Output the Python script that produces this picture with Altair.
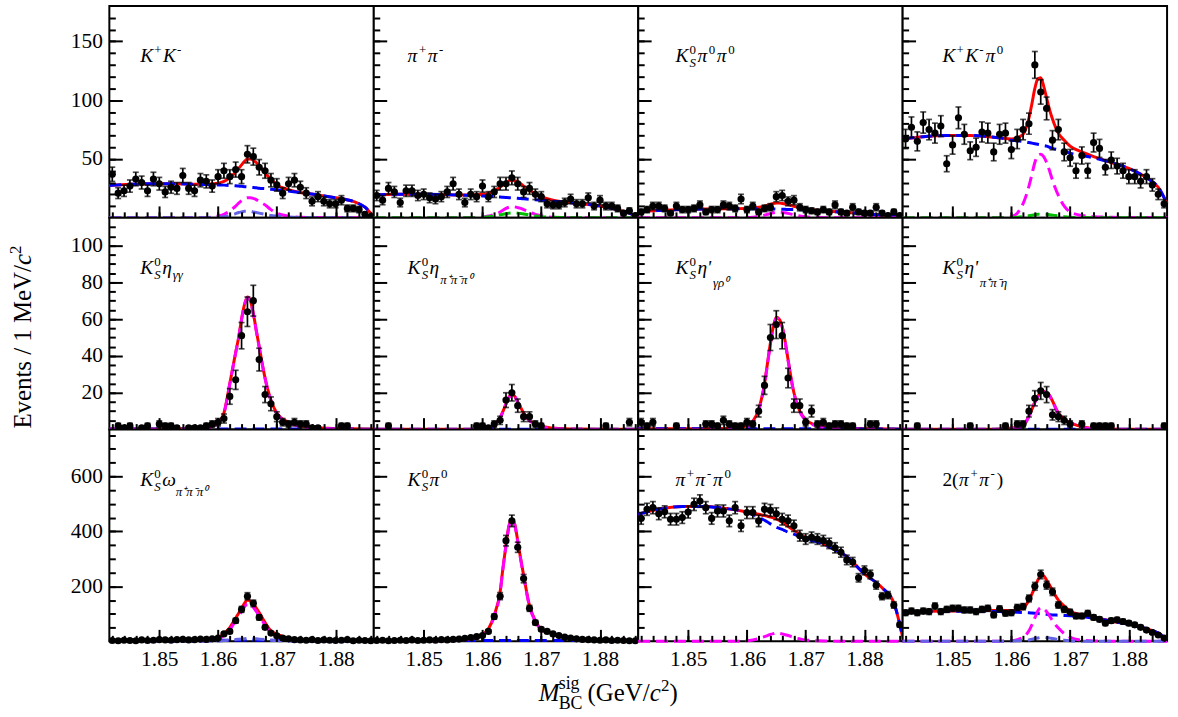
import altair as alt
import numpy as np
import pandas as pd

# ---------------- grid ----------------
XDOM = [1.8415, 1.8865]
BIN_X = [round(1.842 + 0.001 * i, 4) for i in range(45)]          # bin centres (1 MeV bins)
CX = [1.8415, 1.845, 1.849, 1.853, 1.856, 1.858, 1.860, 1.861, 1.862, 1.863,
      1.8635, 1.864, 1.8645, 1.865, 1.8655, 1.866, 1.8665, 1.867, 1.868, 1.869,
      1.870, 1.872, 1.874, 1.877, 1.880, 1.883, 1.885, 1.8865]     # fit-curve sample points
X_MAJOR = [1.85, 1.86, 1.87, 1.88]
X_MINOR = [round(1.842 + 0.002 * i, 3) for i in range(23)]

Y_DOM = [[0, 180], [0, 115], [0, 770]]
Y_MAJOR = [[50, 100, 150], [20, 40, 60, 80, 100], [200, 400, 600]]
Y_MINOR = [list(range(10, 180, 10)), list(range(5, 115, 5)), list(range(50, 770, 50))]

# ---------------- data: K+K- ----------------
KK_N = [37, 21, 23, 27, 33, 30, 23, 33, 29, 22, 26, 25, 36, 25, 23, 32, 31, 27, 35, 40, 35, 41, 35,
        54, 52, 43, 40, 32, 28, 21, 29, 32, 26, 21, 14, 18, 14, 12, 12, 15, 8, 8, 7, 3, 1]
KK_TOT = [27.5, 28.5, 29, 29, 28.5, 28.5, 29.5, 31, 34, 39, 42, 45, 48, 50, 50, 49, 47, 44, 38, 33,
          28, 24, 21.5, 19.5, 17, 14, 9, 0.5]
KK_BKG = [27.5, 28.5, 29, 29, 28.5, 28.3, 28, 27.8, 27.5, 27.2, 27, 26.8, 26.5, 26.3, 26, 25.8, 25.5,
          25.2, 24.8, 24.3, 23.8, 22.8, 21.4, 19.5, 17, 14, 9, 0.5]
KK_SIG = [0, 0, 0, 0, 0, 0.2, 1.5, 3, 6, 10, 12.5, 14.5, 16, 17, 17, 16.5, 15.5, 14, 11, 7, 4, 1.5,
          0.5, 0.2, 0, 0, 0, 0]
KK_PK = [0, 0, 0, 0, 0, 0.1, 0.5, 1, 2, 3.5, 4.5, 5, 5.5, 5.5, 5.5, 5, 4.5, 4, 3, 2, 1.5, 0.7, 0.3,
         0.1, 0, 0, 0, 0]

# ---------------- data: pi+pi- ----------------
PP_N = [19, 15, 25, 22, 13, 23, 23, 19, 20, 17, 16, 18, 22, 29, 20, 13, 20, 18, 27, 18, 22, 29, 29,
        34, 29, 22, 25, 20, 18, 12, 11, 11, 13, 16, 12, 12, 17, 10, 15, 10, 10, 8, 4, 6, 2]
PP_TOT = [19.5, 20, 20, 19.8, 19.5, 19.5, 20, 21, 23, 26, 28, 30, 31.5, 32, 31.5, 30.5, 29, 27, 23.5,
          20.5, 18, 15, 13.5, 12, 10, 7, 4, 0.5]
PP_BKG = [19.5, 20, 20, 19.8, 19.4, 19, 18.6, 18.3, 18, 17.7, 17.5, 17.3, 17.1, 17, 16.8, 16.6, 16.4,
          16.2, 15.8, 15.4, 15, 14.2, 13.3, 12, 10, 7, 4, 0.5]
PP_SIG = [0, 0, 0, 0, 0, 0, 0.5, 1.5, 3, 5, 6.5, 8, 9, 9.5, 9.3, 8.7, 8, 7, 5, 3, 1.8, 0.5, 0.2, 0,
          0, 0, 0, 0]
PP_PK = [0, 0, 0, 0, 0, 0, 0.5, 1, 1.5, 2.5, 3, 3.5, 4, 4.2, 4.2, 4, 3.7, 3.3, 2.5, 1.7, 1, 0.4, 0.2,
         0, 0, 0, 0, 0]

# ---------------- data: KS pi0 pi0 ----------------
KPP_N = [5, 7, 10, 10, 8, 4, 10, 7, 7, 8, 11, 5, 7, 7, 11, 10, 8, 16, 7, 10, 5, 8, 9, 18, 19, 14,
         15, 9, 7, 6, 5, 7, 5, 11, 5, 4, 9, 5, 4, 4, 9, 4, 2, 5, 2]
KPP_TOT = [5.5, 6.3, 7, 7.5, 7.7, 7.8, 8, 8.3, 9, 10, 10.8, 11.5, 12.2, 12.5, 12.5, 12.2, 11.8, 11.2,
           9.8, 8.5, 7.6, 6.4, 5.6, 4.6, 3.6, 2.4, 1.6, 0.5]
KPP_BKG = [5.5, 6.3, 7, 7.5, 7.7, 7.8, 7.8, 7.8, 7.7, 7.6, 7.6, 7.5, 7.5, 7.4, 7.4, 7.3, 7.2, 7.1, 7,
           6.8, 6.6, 6, 5.4, 4.5, 3.5, 2.3, 1.5, 0.5]
KPP_SIG = [0, 0, 0, 0, 0, 0, 0.2, 0.5, 1.2, 2.3, 3, 3.7, 4.3, 4.7, 4.8, 4.6, 4.3, 3.8, 2.6, 1.6, 0.9,
           0.3, 0.1, 0, 0, 0, 0, 0]

# ---------------- data: K+K- pi0 ----------------
KKP_N = [67, 77, 65, 81, 75, 72, 78, 46, 62, 85, 71, 57, 60, 73, 72, 56, 71, 72, 58, 67, 75, 80, 130,
         107, 93, 66, 75, 56, 51, 40, 53, 40, 64, 59, 43, 49, 44, 40, 35, 35, 31, 35, 28, 20, 12]
KKP_TOT = [67, 69, 70, 70, 69, 68, 67, 68, 71, 85, 97, 110, 118, 119, 112, 102, 92, 84, 72, 66, 61,
           56, 52, 47, 42, 34, 26, 12]
KKP_BKG = [67, 69, 70, 70, 69, 68, 66, 65.5, 65, 64, 63.5, 63, 62.5, 62, 61.5, 61, 60, 59, 58, 57, 55,
           53, 51, 47, 42, 34, 26, 12]
KKP_SIG = [0, 0, 0, 0, 0, 0, 1, 4, 12, 27, 37, 47, 53, 54, 52, 47, 40, 32, 19, 10, 5, 2, 1, 0.5, 0.3,
           0.2, 0.1, 0]
KKP_PK = [0, 0, 0, 0, 0, 0, 0.2, 0.5, 1, 1.8, 2.2, 2.6, 3, 3.2, 3.2, 3, 2.7, 2.3, 1.6, 1, 0.6, 0.2,
          0.1, 0, 0, 0, 0, 0]

# ---------------- data: KS eta(gg) ----------------
KEG_N = [0, 2, 1, 2, 0, 1, 2, 0, 3, 2, 2, 1, 0, 1, 1, 1, 2, 3, 4, 6, 18, 27, 51, 64, 70, 38, 19, 14,
         7, 4, 3, 4, 3, 3, 1, 1, 0, 0, 0, 2, 2, 0, 0, 0, 0]
KEG_TOT = [0.3, 0.3, 0.3, 0.4, 0.5, 0.9, 3.5, 9, 25, 42, 50, 60, 68, 72, 70, 63, 54, 45, 28, 16, 9, 4,
           2, 1, 0.6, 0.4, 0.3, 0.2]
KEG_BKG = [0.3, 0.3, 0.3, 0.3, 0.3, 0.3, 0.3, 0.3, 0.3, 0.3, 0.3, 0.3, 0.3, 0.3, 0.3, 0.3, 0.3, 0.3,
           0.3, 0.3, 0.3, 0.3, 0.3, 0.3, 0.3, 0.25, 0.2, 0.1]
KEG_SIG = [0, 0, 0, 0.1, 0.2, 0.6, 3.2, 8.7, 24.7, 41.7, 49.7, 59.7, 67.7, 71.7, 69.7, 62.7, 53.7,
           44.7, 27.7, 15.7, 8.7, 3.7, 1.7, 0.7, 0.3, 0.15, 0.1, 0.1]

# ---------------- data: KS eta(3pi) ----------------
KE3_N = [0, 0, 2, 0, 0, 0, 0, 0, 0, 0, 0, 0, 0, 0, 0, 0, 0, 2, 2, 1, 3, 5, 16, 20, 13, 7, 7, 3, 2, 0,
         0, 0, 0, 0, 0, 0, 0, 0, 0, 2, 0, 0, 0, 4, 0]
KE3_TOT = [0.2, 0.2, 0.2, 0.2, 0.2, 0.2, 0.4, 1, 2.5, 6.5, 10, 14, 17.5, 19, 18, 15, 12, 9, 5, 3, 1.8,
           0.8, 0.4, 0.25, 0.2, 0.2, 0.2, 0.2]
KE3_BKG = [0.2, 0.2, 0.2, 0.2, 0.2, 0.2, 0.2, 0.2, 0.2, 0.2, 0.2, 0.2, 0.2, 0.2, 0.2, 0.2, 0.2, 0.2,
           0.2, 0.2, 0.2, 0.2, 0.2, 0.2, 0.2, 0.2, 0.2, 0.2]
KE3_SIG = [0, 0, 0, 0, 0, 0, 0.2, 0.8, 2.3, 6.3, 9.8, 13.8, 17.3, 18.8, 17.8, 14.8, 11.8, 8.8, 4.8,
           2.8, 1.6, 0.6, 0.2, 0.05, 0, 0, 0, 0]

# ---------------- data: KS eta'(gamma rho) ----------------
KEPG_N = [4, 2, 4, 0, 0, 0, 2, 0, 0, 0, 0, 3, 3, 2, 5, 3, 2, 2, 4, 3, 10, 24, 50, 57, 51, 28, 13, 13,
          4, 10, 3, 4, 2, 3, 3, 2, 2, 0, 0, 3, 3, 0, 0, 0, 0]
KEPG_TOT = [0.4, 0.4, 0.5, 0.5, 0.6, 0.8, 2, 4.5, 11, 25, 36, 47, 56, 61, 60, 56, 48, 38, 20, 10, 5.5,
            2.2, 1.2, 0.7, 0.5, 0.4, 0.3, 0.3]
KEPG_BKG = [0.4, 0.4, 0.4, 0.4, 0.4, 0.4, 0.4, 0.4, 0.4, 0.4, 0.4, 0.4, 0.4, 0.4, 0.4, 0.4, 0.4, 0.4,
            0.4, 0.4, 0.4, 0.4, 0.4, 0.4, 0.35, 0.3, 0.25, 0.2]
KEPG_SIG = [0, 0, 0.1, 0.1, 0.2, 0.4, 1.6, 4.1, 10.6, 24.6, 35.6, 46.6, 55.6, 60.6, 59.6, 55.6, 47.6,
            37.6, 19.6, 9.6, 5.1, 1.8, 0.8, 0.3, 0.15, 0.1, 0.05, 0.1]

# ---------------- data: KS eta'(pi pi eta) ----------------
KEPP_N = [0, 0, 2, 0, 0, 0, 0, 0, 0, 0, 0, 2, 0, 0, 0, 0, 0, 2, 0, 3, 3, 10, 17, 21, 19, 8, 7, 5, 3,
          0, 3, 0, 2, 2, 2, 2, 0, 0, 0, 0, 0, 0, 0, 0, 2]
KEPP_TOT = [0.2, 0.2, 0.2, 0.2, 0.2, 0.3, 0.8, 1.3, 2.2, 7.4, 11, 15, 18, 20.5, 20.8, 19.8, 18.5, 15.5,
            9, 5.5, 3.8, 1.5, 0.6, 0.3, 0.2, 0.2, 0.2, 0.2]
KEPP_BKG = [0.2, 0.2, 0.2, 0.2, 0.2, 0.2, 0.2, 0.2, 0.2, 0.2, 0.2, 0.2, 0.2, 0.2, 0.2, 0.2, 0.2, 0.2,
            0.2, 0.2, 0.2, 0.2, 0.2, 0.2, 0.2, 0.2, 0.2, 0.2]
KEPP_SIG = [0, 0, 0, 0, 0, 0.1, 0.6, 1.1, 2, 7.2, 10.8, 14.8, 17.8, 20.3, 20.6, 19.6, 18.3, 15.3, 8.8,
            5.3, 3.6, 1.3, 0.4, 0.1, 0, 0, 0, 0]

# ---------------- data: KS omega ----------------
KW_N = [3, 2, 4, 3, 2, 5, 3, 4, 6, 5, 4, 6, 7, 5, 6, 8, 7, 9, 12, 27, 36, 75, 116, 164, 138, 87, 51,
        30, 20, 12, 9, 6, 5, 4, 6, 3, 5, 4, 3, 4, 6, 2, 4, 3, 2]
KW_TOT = [4, 4, 4, 4, 4.5, 6, 12, 28, 50, 85, 102, 120, 138, 150, 146, 137, 121, 105, 68, 38, 26, 11,
          6, 4.5, 4, 3.5, 3, 2]
KW_BKG = [3.5, 3.5, 3.5, 3.5, 3.5, 3.5, 3.5, 3.5, 3.5, 3.5, 3.5, 3.5, 3.5, 3.5, 3.5, 3.5, 3.5, 3.5,
          3.5, 3.5, 3.5, 3.5, 3.4, 3.3, 3.1, 2.8, 2.4, 1.8]
KW_SIG = [0, 0, 0, 0, 0.5, 2.2, 7.5, 22, 42.5, 75, 91, 108, 125, 136.5, 132.5, 124, 108.5, 93.5,
          58.5, 30.5, 20, 6.5, 2.2, 1.1, 0.9, 0.7, 0.6, 0.2]
KW_PK = [0, 0, 0, 0, 0, 0.3, 1, 2.5, 4, 6.5, 7.5, 8.5, 9.5, 10, 10, 9.5, 9, 8, 6, 4, 2.5, 1, 0.4, 0.1,
         0, 0, 0, 0]

# ---------------- data: KS pi0 ----------------
KP_N = [3, 4, 2, 3, 4, 3, 5, 3, 4, 5, 4, 6, 5, 7, 8, 11, 14, 17, 21, 36, 90, 164, 366, 438, 342, 228,
        120, 68, 44, 36, 27, 21, 15, 12, 9, 7, 6, 5, 4, 5, 3, 4, 3, 2, 2]
KP_TOT = [4, 4, 4, 5, 7, 12, 25, 45, 95, 180, 270, 350, 420, 445, 425, 365, 300, 240, 130, 75, 45, 28,
          16, 8, 5, 4, 3, 2]
KP_BKG = [3, 3, 3, 3, 3, 3, 3, 3, 3, 3, 3, 3, 3, 3, 3, 3, 3, 3, 3, 3, 3, 3, 2.9, 2.7, 2.5, 2.2, 1.8,
          1.2]
KP_SIG = [1, 1, 1, 2, 4, 9, 22, 42, 92, 177, 267, 347, 417, 442, 422, 362, 297, 237, 127, 72, 42, 25,
          13.1, 5.3, 2.5, 1.8, 1.2, 0.8]

# ---------------- data: pi+pi-pi0 ----------------
PPP_N = [447, 480, 486, 464, 471, 444, 444, 450, 470, 498, 510, 486, 447, 474, 474, 438, 486, 420, 468,
         468, 438, 480, 476, 464, 444, 438, 420, 384, 372, 378, 372, 366, 356, 340, 324, 296, 288, 231,
         258, 243, 204, 164, 168, 132, 60]
PPP_TOT = [462, 480, 490, 490, 484, 478, 470, 466, 462, 457, 455, 452, 449, 445, 440, 434, 426, 418,
           404, 390, 377, 364, 344, 308, 245, 195, 140, 15]
PPP_BKG = [462, 480, 490, 490, 484, 478, 468, 461, 452, 440, 434, 427, 421, 415, 411, 407, 402, 397,
           390, 381, 372, 362, 343, 308, 245, 195, 140, 15]
PPP_SIG = [0, 0, 0, 0, 0, 0, 2, 5, 10, 17, 21, 25, 28, 30, 29, 27, 24, 21, 14, 9, 5, 2, 1, 0, 0, 0, 0,
           0]

# ---------------- data: 2(pi+pi-) ----------------
TPP_N = [104, 110, 104, 110, 108, 128, 108, 116, 120, 120, 114, 114, 108, 116, 120, 96, 118, 102, 104,
         123, 126, 156, 200, 243, 204, 180, 132, 116, 106, 92, 92, 102, 87, 80, 66, 75, 78, 72, 66, 60,
         51, 41, 32, 23, 12]
TPP_TOT = [104, 108, 110, 111, 112, 112, 112, 114, 122, 148, 172, 196, 222, 238, 238, 222, 205, 185,
           150, 128, 110, 96, 88, 74, 62, 46, 30, 8]
TPP_BKG = [104, 107, 109, 109, 109, 108, 107, 106, 105, 104, 103, 102, 101, 100, 99, 98, 97, 96, 95, 94,
           93, 90, 84, 74, 62, 46, 30, 8]
TPP_SIG = [0, 0, 0, 0, 0, 0.5, 2, 6, 15, 38, 60, 85, 110, 122, 118, 108, 92, 75, 48, 28, 14, 4, 1.5,
           0.5, 0, 0, 0, 0]
TPP_PK = [0, 0, 0, 0, 0, 0, 1, 2, 3, 5, 8, 10, 12, 14, 14, 13, 12, 10, 7, 4, 2, 0.5, 0.2, 0, 0, 0, 0, 0]

# ---------------- styling ----------------
FONT = "Liberation Serif"
W, H = 266, 213
RED, BLUE, MAGENTA = "#ff0000", "#0000ff", "#ff00ff"
SLATE, GREEN = "#6464e6", "#00c000"
DASH = [12, 6]
MAIN, SCRIPT = 19.5, 13
TICKFS = 21.5

WID = {"K": 0.70, "S": 0.5, "0": 0.5, "2": 0.5, "+": 0.564, "-": 0.36, "π": 0.56, "η": 0.52,
       "ω": 0.68, "γ": 0.46, "ρ": 0.5, "'": 0.25, "(": 0.333, ")": 0.333, "⁺": 0.35, "⁻": 0.35,
       "⁰": 0.35}

L_KK = [("K", "i"), ("+", "sup"), ("K", "i"), ("-", "sup")]
L_PP = [("π", "i"), ("+", "sup"), ("π", "i"), ("-", "sup")]
L_KPP = [("K", "i"), ("S", "subS"), ("0", "sup"), ("π", "i"), ("0", "sup"), ("π", "i"), ("0", "sup")]
L_KKP = [("K", "i"), ("+", "sup"), ("K", "i"), ("-", "sup"), ("π", "i"), ("0", "sup")]
L_KEG = [("K", "i"), ("S", "subS"), ("0", "sup"), ("η", "i"), ("γγ", "sub")]
L_KE3 = [("K", "i"), ("S", "subS"), ("0", "sup"), ("η", "i"), ("π⁺π⁻π⁰", "lsub")]
L_KEPG = [("K", "i"), ("S", "subS"), ("0", "sup"), ("η'", "i"), ("γρ⁰", "lsub2")]
L_KEPP = [("K", "i"), ("S", "subS"), ("0", "sup"), ("η'", "i"), ("π⁺π⁻η", "lsub2")]
L_KW = [("K", "i"), ("S", "subS"), ("0", "sup"), ("ω", "i"), ("π⁺π⁻π⁰", "lsub")]
L_KP = [("K", "i"), ("S", "subS"), ("0", "sup"), ("π", "i"), ("0", "sup")]
L_PPP = [("π", "i"), ("+", "sup"), ("π", "i"), ("-", "sup"), ("π", "i"), ("0", "sup")]
L_TPP = [("2(", "r"), ("π", "i"), ("+", "sup"), ("π", "i"), ("-", "sup"), (")", "r")]

PANELS = [
    [dict(lab=L_KK, n=KK_N, tot=KK_TOT, bkg=KK_BKG, sig=KK_SIG, pk=KK_PK, pkc=SLATE),
     dict(lab=L_PP, n=PP_N, tot=PP_TOT, bkg=PP_BKG, sig=PP_SIG, pk=PP_PK, pkc=GREEN),
     dict(lab=L_KPP, n=KPP_N, tot=KPP_TOT, bkg=KPP_BKG, sig=KPP_SIG),
     dict(lab=L_KKP, n=KKP_N, tot=KKP_TOT, bkg=KKP_BKG, sig=KKP_SIG, pk=KKP_PK, pkc=GREEN)],
    [dict(lab=L_KEG, n=KEG_N, tot=KEG_TOT, bkg=KEG_BKG, sig=KEG_SIG),
     dict(lab=L_KE3, n=KE3_N, tot=KE3_TOT, bkg=KE3_BKG, sig=KE3_SIG),
     dict(lab=L_KEPG, n=KEPG_N, tot=KEPG_TOT, bkg=KEPG_BKG, sig=KEPG_SIG),
     dict(lab=L_KEPP, n=KEPP_N, tot=KEPP_TOT, bkg=KEPP_BKG, sig=KEPP_SIG)],
    [dict(lab=L_KW, n=KW_N, tot=KW_TOT, bkg=KW_BKG, sig=KW_SIG, pk=KW_PK, pkc=SLATE),
     dict(lab=L_KP, n=KP_N, tot=KP_TOT, bkg=KP_BKG, sig=KP_SIG),
     dict(lab=L_PPP, n=PPP_N, tot=PPP_TOT, bkg=PPP_BKG, sig=PPP_SIG),
     dict(lab=L_TPP, n=TPP_N, tot=TPP_TOT, bkg=TPP_BKG, sig=TPP_SIG, pk=TPP_PK, pkc=SLATE)],
]
LAB_X = [31, 34, 37.5, 40]
LAB_Y = 56.5


def tw(s, fs):
    return sum(WID.get(ch, 0.5) for ch in s) * fs


def text_layer(s, x, y, size, style="normal", angle=0):
    df = pd.DataFrame({"t": [s]})
    return alt.Chart(df).mark_text(
        align="left", baseline="alphabetic", font=FONT, fontSize=size,
        fontStyle=style, angle=angle, color="black"
    ).encode(x=alt.value(x), y=alt.value(y), text="t:N")


def label_layers(segs, x0, y0):
    out, x, pending = [], x0, 0.0
    for text, kind in segs:
        if kind == "i":
            fs, dy, st = MAIN, 0, "italic"
        elif kind == "r":
            fs, dy, st = MAIN, 0, "normal"
        elif kind == "sup":
            fs, dy, st = SCRIPT, -8, "normal"
        elif kind in ("sub", "subS"):
            fs, dy, st = SCRIPT, 5, "italic"
        elif kind == "lsub":
            fs, dy, st = SCRIPT, 10, "italic"
        else:
            fs, dy, st = SCRIPT, 13, "italic"
        out.append(text_layer(text, x, y0 + dy, fs, st))
        w = tw(text, fs)
        if kind == "subS":
            pending = w
        else:
            x += max(w, pending) + (1.5 if kind in ("sup", "sub") else 0.5)
            pending = 0.0
    return out


def panel(p, r, c):
    xsc = alt.Scale(domain=XDOM, nice=False, zero=False)
    ysc = alt.Scale(domain=Y_DOM[r], nice=False, zero=False)

    def X(f="x"):
        return alt.X(f"{f}:Q", scale=xsc, axis=None)

    def Y(f):
        return alt.Y(f"{f}:Q", scale=ysc, axis=None)

    pts = pd.DataFrame({"x": BIN_X, "n": np.array(p["n"], dtype=float)})
    pts = pts[pts["n"] > 0].copy()
    err = np.sqrt(pts["n"])
    pts["lo"] = pts["n"] - err
    pts["hi"] = pts["n"] + err
    pts["xl"] = pts["x"] - 0.0005
    pts["xh"] = pts["x"] + 0.0005

    def curve(vals, color, dash=None, width=3):
        df = pd.DataFrame({"x": CX, "y": vals})
        kw = dict(color=color, strokeWidth=width, interpolate="monotone")
        if dash:
            kw["strokeDash"] = dash
        return alt.Chart(df).mark_line(**kw).encode(x=X(), y=Y("y"))

    layers = [curve(p["tot"], RED), curve(p["bkg"], BLUE, DASH), curve(p["sig"], MAGENTA, DASH)]
    if "pk" in p:
        layers.append(curve(p["pk"], p["pkc"], DASH))

    base = alt.Chart(pts)
    layers += [
        base.mark_rule(color="black", strokeWidth=1.7).encode(x=X(), y=Y("lo"), y2="hi:Q"),
        base.mark_rule(color="black", strokeWidth=1.7).encode(x=X("xl"), x2="xh:Q", y=Y("n")),
        base.mark_tick(orient="horizontal", size=6, thickness=1.7, color="black").encode(x=X(), y=Y("lo")),
        base.mark_tick(orient="horizontal", size=6, thickness=1.7, color="black").encode(x=X(), y=Y("hi")),
        base.mark_circle(size=52, color="black", opacity=1).encode(x=X(), y=Y("n")),
    ]

    ax = alt.Chart(pts).mark_point(opacity=0)
    tick_common = dict(labels=False, domain=False, grid=False, title=None, tickColor="black",
                       tickWidth=2, zindex=1)
    layers += [
        ax.encode(x=alt.X("x:Q", scale=xsc, axis=alt.Axis(orient="top", offset=-H, values=X_MAJOR,
                                                          tickSize=12, **tick_common)), y=Y("n")),
        ax.encode(x=alt.X("x:Q", scale=xsc, axis=alt.Axis(orient="top", offset=-H, values=X_MINOR,
                                                          tickSize=6, **tick_common)), y=Y("n")),
        ax.encode(x=X(), y=alt.Y("n:Q", scale=ysc, axis=alt.Axis(orient="right", offset=-W,
                                                              values=Y_MAJOR[r], tickSize=13, **tick_common))),
        ax.encode(x=X(), y=alt.Y("n:Q", scale=ysc, axis=alt.Axis(orient="right", offset=-W,
                                                              values=Y_MINOR[r], tickSize=6, **tick_common))),
    ]
    if r == 2:
        layers.append(ax.encode(x=alt.X("x:Q", scale=xsc, axis=alt.Axis(
            orient="bottom", values=X_MAJOR, format=".2f", ticks=False, domain=False, grid=False,
            title=None, labelPadding=7, labelFont=FONT, labelFontSize=TICKFS, labelColor="black")), y=Y("n")))
    if c == 0:
        layers.append(ax.encode(x=X(), y=alt.Y("n:Q", scale=ysc, axis=alt.Axis(
            orient="left", values=Y_MAJOR[r], ticks=False, domain=False, grid=False, title=None,
            labelPadding=7, labelFont=FONT, labelFontSize=TICKFS, labelColor="black"))))

    layers += label_layers(p["lab"], LAB_X[c], LAB_Y)

    if r == 1 and c == 0:
        yb, yx = 212, -79
        layers += [text_layer("Events / 1 MeV/", yx, yb, 25, angle=270),
                   text_layer("c", yx, yb - 164.6, 25, "italic", angle=270),
                   text_layer("2", yx - 10, yb - 175.7, 17, angle=270)]
    if r == 2 and c == 1:
        bl = 273
        layers += [text_layer("M", 166, bl, 25, "italic"),
                   text_layer("sig", 186, bl - 12, 18),
                   text_layer("BC", 186, bl + 8, 18),
                   text_layer("(GeV/", 215, bl, 25),
                   text_layer("c", 277.5, bl, 25, "italic"),
                   text_layer("2", 289, bl - 10, 17),
                   text_layer(")", 297.5, bl, 25)]

    return alt.layer(*layers).resolve_axis(x="independent", y="independent").properties(width=W, height=H)


cells = [panel(PANELS[r][c], r, c) for r in range(3) for c in range(4)]

chart = alt.concat(*cells, columns=4, spacing=0, bounds="flush").configure_view(
    stroke="black", strokeWidth=2, fill="white"
).properties(
    padding={"left": 6, "top": 3, "right": 4, "bottom": 0}, background="white"
)

chart.save("out.html", embed_options={"renderer": "svg", "actions": False})
